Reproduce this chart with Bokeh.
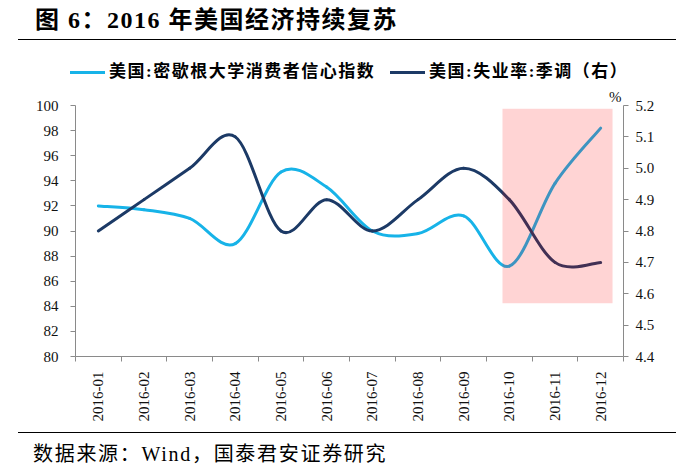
import math
from bokeh.plotting import figure
from bokeh.layouts import column
from bokeh.models import (Range1d, LinearAxis, FixedTicker, Div, BoxAnnotation,
                          PrintfTickFormatter, ColumnDataSource, Title)
from bokeh.embed import file_html
from bokeh.resources import INLINE

# ---------------- data ----------------
months = ["2016-01", "2016-02", "2016-03", "2016-04", "2016-05", "2016-06",
          "2016-07", "2016-08", "2016-09", "2016-10", "2016-11", "2016-12"]
sentiment = [92.0, 91.7, 91.0, 89.0, 94.7, 93.5, 90.0, 89.8, 91.2, 87.2, 93.8, 98.2]
unemployment = [4.8, 4.9, 5.0, 5.1, 4.8, 4.9, 4.8, 4.9, 5.0, 4.9, 4.7, 4.7]
left_ticks = [80, 82, 84, 86, 88, 90, 92, 94, 96, 98, 100]
right_ticks = [4.4, 4.5, 4.6, 4.7, 4.8, 4.9, 5.0, 5.1, 5.2]
series_names = ["美国:密歇根大学消费者信心指数", "美国:失业率:季调（右）"]
title_text = "图 6：2016 年美国经济持续复苏"
source_text = "数据来源：Wind，国泰君安证券研究"
unit_text = "%"
highlight_months = (9.85, 12.26)   # shaded period (x, category units)
highlight_right = (4.57, 5.19)     # shaded period (right-axis units)

CYAN = "#17b3e8"
NAVY = "#1c3a66"
AXIS = "#8a8a8a"
FONT_CSS = "'Liberation Serif', 'Noto Sans CJK SC', serif"

xs = list(range(1, len(months) + 1))


def smooth(xv, yv, k=1.0 / 6.0):
    """cubic bezier segments (Catmull-Rom style smoothing, as in the source chart)"""
    n = len(xv)
    d = dict(x0=[], y0=[], x1=[], y1=[], cx0=[], cy0=[], cx1=[], cy1=[])
    for i in range(n - 1):
        a = max(i - 1, 0)
        b = min(i + 2, n - 1)
        d["x0"].append(xv[i]); d["y0"].append(yv[i])
        d["x1"].append(xv[i + 1]); d["y1"].append(yv[i + 1])
        d["cx0"].append(xv[i] + (xv[i + 1] - xv[a]) * k)
        d["cy0"].append(yv[i] + (yv[i + 1] - yv[a]) * k)
        d["cx1"].append(xv[i + 1] - (xv[b] - xv[i]) * k)
        d["cy1"].append(yv[i + 1] - (yv[b] - yv[i]) * k)
    return ColumnDataSource(d)


W = 692
HEAD_H, MAIN_H, FOOT_H = 83, 342, 44

# ---------------- header: title, rule, legend ----------------
head_html = f"""
<div style="position:relative;width:{W}px;height:{HEAD_H}px;font-family:{FONT_CSS};color:#000;">
  <div style="position:absolute;left:35px;top:6px;font-size:24px;font-weight:bold;line-height:28px;letter-spacing:1.5px;white-space:nowrap;">{title_text}</div>
  <div style="position:absolute;left:18px;top:39px;width:658px;height:0;border-top:1.5px solid #000;"></div>
  <div style="position:absolute;left:70px;top:71px;width:35px;height:3px;background:{CYAN};"></div>
  <div style="position:absolute;left:109px;top:62px;font-size:17px;font-weight:bold;line-height:20px;letter-spacing:1.5px;white-space:nowrap;">{series_names[0]}</div>
  <div style="position:absolute;left:390px;top:71px;width:35px;height:3px;background:{NAVY};"></div>
  <div style="position:absolute;left:429px;top:62px;font-size:17px;font-weight:bold;line-height:20px;letter-spacing:1.5px;white-space:nowrap;">{series_names[1]}</div>
</div>"""
head = Div(text=head_html, width=W, height=HEAD_H, margin=0)

# ---------------- main chart ----------------
ML, MR, MT, MB = 75, 69, 22, 69
p = figure(width=W, height=MAIN_H, output_backend="svg", toolbar_location=None,
           x_range=Range1d(0.5, 12.5), y_range=Range1d(80, 100),
           min_border_left=ML, min_border_right=MR, min_border_top=MT, min_border_bottom=MB,
           x_axis_location=None, y_axis_location=None, margin=0)
p.xgrid.visible = False
p.ygrid.visible = False
p.outline_line_color = None
p.background_fill_color = "white"
p.border_fill_color = "white"
p.extra_y_ranges = {"right": Range1d(4.4, 5.2)}

xaxis = LinearAxis(ticker=FixedTicker(ticks=xs, minor_ticks=[x - 0.5 for x in xs] + [12.5]))
xaxis.major_label_overrides = {x: m for x, m in zip(xs, months)}
xaxis.major_label_orientation = math.pi / 2
xaxis.major_tick_out = 0
xaxis.major_tick_in = 0
xaxis.minor_tick_out = 5
xaxis.minor_tick_in = 0
xaxis.major_label_standoff = 10
p.add_layout(xaxis, "below")

yaxis = LinearAxis(ticker=FixedTicker(ticks=left_ticks))
yaxis.major_tick_out = 5
yaxis.major_tick_in = 0
yaxis.major_label_standoff = 12
p.add_layout(yaxis, "left")

raxis = LinearAxis(y_range_name="right", ticker=FixedTicker(ticks=right_ticks),
                   formatter=PrintfTickFormatter(format="%.1f"))
raxis.major_tick_out = 5
raxis.major_tick_in = 0
raxis.major_label_standoff = 7
p.add_layout(raxis, "right")

for ax in (xaxis, yaxis, raxis):
    ax.axis_line_color = AXIS
    ax.major_tick_line_color = AXIS
    ax.minor_tick_line_color = AXIS if ax is xaxis else None
    ax.major_label_text_font = "Liberation Serif"
    ax.major_label_text_font_size = "15px"
    ax.major_label_text_color = "#111111"

p.add_layout(Title(text=unit_text, align="right", offset=2, standoff=1,
                   text_font="Liberation Serif", text_font_size="15px",
                   text_font_style="normal", text_color="#111111"), "above")

p.bezier(x0="x0", y0="y0", x1="x1", y1="y1", cx0="cx0", cy0="cy0", cx1="cx1", cy1="cy1",
         source=smooth(xs, sentiment), line_color=CYAN, line_width=3, line_cap="round")
p.bezier(x0="x0", y0="y0", x1="x1", y1="y1", cx0="cx0", cy0="cy0", cx1="cx1", cy1="cy1",
         source=smooth(xs, unemployment), line_color=NAVY, line_width=3, line_cap="round",
         y_range_name="right")

p.add_layout(BoxAnnotation(left=highlight_months[0], right=highlight_months[1],
                           bottom=highlight_right[0], top=highlight_right[1], y_range_name="right",
                           fill_color="#ff0000", fill_alpha=0.17, line_color=None))

# ---------------- footer: rule and source ----------------
foot_html = f"""
<div style="position:relative;width:{W}px;height:{FOOT_H}px;font-family:{FONT_CSS};color:#000;">
  <div style="position:absolute;left:18px;top:7px;width:658px;height:0;border-top:1.5px solid #000;"></div>
  <div style="position:absolute;left:33px;top:17px;font-size:20px;line-height:24px;letter-spacing:1.7px;white-space:nowrap;">{source_text}</div>
</div>"""
foot = Div(text=foot_html, width=W, height=FOOT_H, margin=0)

layout = column(head, p, foot, spacing=0)
open("out.html", "w").write(file_html(layout, INLINE))
